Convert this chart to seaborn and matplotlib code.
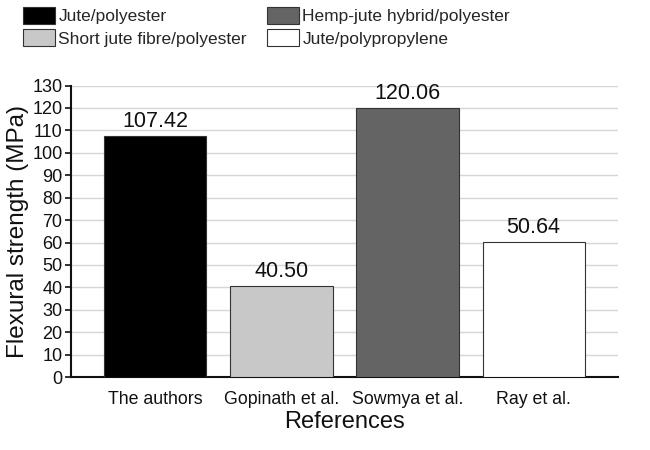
import matplotlib
matplotlib.use("Agg")
import matplotlib.pyplot as plt
import pandas as pd
import seaborn as sns
from matplotlib.patches import Patch

# data
references = ["The authors", "Gopinath et al.", "Sowmya et al.", "Ray et al."]
materials = ["Jute/polyester", "Short jute fibre/polyester",
             "Hemp-jute hybrid/polyester", "Jute/polypropylene"]
bar_heights = [107.42, 40.50, 120.06, 60.3]
value_labels = ["107.42", "40.50", "120.06", "50.64"]
colors = ["#000000", "#c8c8c8", "#646464", "#ffffff"]

sns.set_theme(style="white")
plt.rcParams["font.family"] = ["Liberation Sans", "DejaVu Sans"]

df = pd.DataFrame({"ref": references, "mat": materials, "val": bar_heights})

fig = plt.figure(figsize=(6.5, 4.5), dpi=100)
ax = fig.add_axes([0.109, 0.162, 0.842, 0.648])

sns.barplot(data=df, x="ref", y="val", hue="mat", dodge=False,
            palette=dict(zip(materials, colors)), saturation=1,
            width=0.81, edgecolor="#333333", linewidth=0.8,
            legend=False, ax=ax, zorder=3)

for i, lab in enumerate(value_labels):
    ax.annotate(lab, (i, bar_heights[i]), xytext=(0, 3),
                textcoords="offset points", ha="center", va="bottom",
                fontsize=15.5, color="#111111")

ax.set_ylim(0, 130)
ax.set_xlim(-0.67, 3.67)
ax.set_yticks(range(0, 131, 10))
ax.yaxis.grid(True, color="#d6d6d6", linewidth=1.0, zorder=0)
ax.set_axisbelow(True)
for s in ["top", "right"]:
    ax.spines[s].set_visible(False)
for s in ["left", "bottom"]:
    ax.spines[s].set_color("#111111")
    ax.spines[s].set_linewidth(1.5)
ax.tick_params(axis="y", which="major", left=True, length=4, width=1.2,
               pad=2, labelsize=13, colors="#111111")
ax.tick_params(axis="x", bottom=False, pad=4, labelsize=12.8, colors="#111111")

ax.set_xlabel("References", fontsize=17, labelpad=2, color="#111111")
ax.set_ylabel("Flexural strength (MPa)", fontsize=17.5, labelpad=2,
              color="#111111")

handles = [Patch(facecolor=c, edgecolor="#333333", linewidth=0.8)
           for c in colors]
fig.legend(handles, materials, ncol=2, loc="upper left",
           bbox_to_anchor=(0.035, 0.985), frameon=False, fontsize=12.5,
           handlelength=1.85, handleheight=1.15, handletextpad=0.2,
           columnspacing=1.15, labelspacing=0.28, borderpad=0,
           borderaxespad=0)

fig.savefig("out.png", dpi=100)
